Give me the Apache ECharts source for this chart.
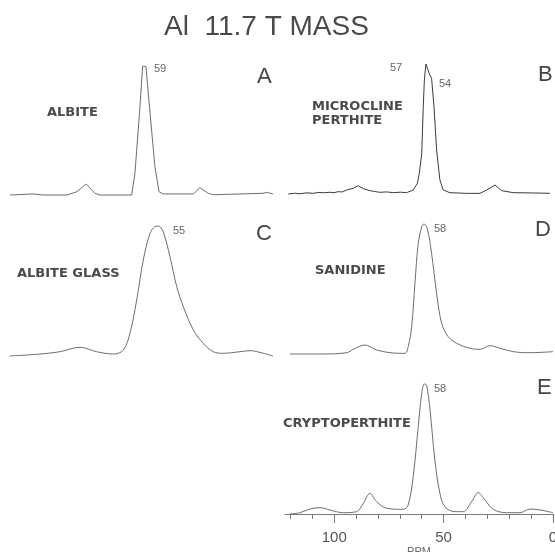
<!DOCTYPE html>
<html>
<head>
<meta charset="utf-8">
<script src="https://cdn.jsdelivr.net/npm/echarts@6/dist/echarts.min.js"></script>
<style>
  html, body { margin: 0; padding: 0; background: #fff; }
  #chart { width: 555px; height: 552px; }
</style>
</head>
<body>
<div id="chart"></div>
<script>
// chemical shift (ppm) and relative intensity (%)
const albitePpm = [120.2, 109.7, 105.2, 94.2, 89.6, 85.5, 81.4, 79.1, 64.6, 63.1, 60.8, 59.6, 58.1, 56.2, 54.0, 52.1, 50.2, 36.4, 33.4, 29.6, 27.3, 4.6, 2.9, 0]
const albiteVal = [0, 0.8, 0, 0, 2.5, 8.5, 1.3, 0, 0, 16.7, 68, 99, 99, 63, 22, 2.5, 0.8, 0.8, 5.6, 1.3, 0.2, 1.3, 2, 0.8]

const microPpm = [121.0, 118.2, 115.7, 112.5, 109.6, 107.3, 105.0, 102.0, 100.1, 98.2, 96.3, 94.3, 91.3, 89.0, 86.7, 83.7, 81.5, 79.1, 76.0, 73.0, 69.8, 66.9, 63.9, 62.0, 61.1, 60.0, 59.3, 58.8, 58.1, 56.6, 55.5, 54.4, 53.2, 51.7, 50.2, 47.1, 39.5, 33.4, 30.3, 26.5, 23.5, 18.2, 9.0, 1.4]
const microVal = [0, 0.6, 0.2, 0.9, 0.5, 1.2, 1.0, 1.3, 1.0, 1.8, 1.6, 3.1, 4.4, 6.4, 4.1, 2.6, 1.9, 1.3, 1.6, 1.0, 1.4, 1.0, 3.1, 8.2, 15.9, 31.3, 67.2, 87.7, 100, 92.8, 89.0, 67.2, 33.8, 10.8, 3.1, 1.0, 0.5, 0.5, 3.1, 6.9, 2.6, 1.0, 0.8, 0.5]

const glassPpm = [120.5, 106.5, 97.4, 88.2, 80.6, 73.0, 68.4, 65.4, 62.3, 59.3, 56.2, 54.0, 52.4, 50.2, 47.1, 44.0, 41.0, 36.4, 31.9, 27.3, 22.7, 15.1, 10.5, 4.4, 0]
const glassVal = [0, 1.5, 3.3, 6.7, 3.3, 1.5, 4.6, 17.4, 43.1, 73.8, 94.4, 99.5, 100, 95.6, 76.4, 53.3, 37.9, 20, 9.7, 3.3, 2.1, 3.3, 4.1, 2.1, 0]

const sanidinePpm = [120.3, 106.5, 94.3, 91.3, 86.0, 80.6, 74.5, 67.7, 66.2, 64.6, 63.1, 61.6, 60.0, 59.0, 57.5, 55.5, 53.2, 50.9, 47.9, 44.0, 38.0, 33.4, 28.8, 24.2, 18.2, 10.5, 0]
const sanidineVal = [0, 0, 1.0, 3.6, 6.9, 3.1, 1.0, 0.5, 5.6, 21.0, 54.4, 85.1, 97.9, 100, 96.7, 77.4, 46.7, 23.6, 13.3, 8.2, 4.4, 3.6, 6.4, 4.4, 1.8, 1.0, 1.8]

const cryptoPpm = [120.3, 115.7, 111.1, 106.5, 102.0, 95.9, 89.8, 86.7, 83.7, 80.6, 76.0, 68.4, 66.2, 63.9, 61.6, 60.0, 58.8, 57.8, 56.2, 54.0, 51.7, 49.4, 44.8, 41.0, 37.2, 34.2, 31.1, 27.3, 21.2, 15.1, 10.5, 5.9, 0]
const cryptoVal = [0, 1.0, 3.8, 4.9, 3.1, 1.0, 1.8, 8.2, 15.9, 9.5, 4.4, 3.6, 6.9, 28.7, 67.2, 92.8, 100, 99.2, 80, 41.5, 15.9, 5.6, 1.8, 1.8, 9.5, 16.4, 10.8, 3.6, 1.0, 1.0, 3.8, 3.1, 1.0]

const minorTickPpm = [0, 10, 20, 30, 40, 50, 60, 70, 80, 90, 100, 110, 120]
const majorTickPpm = [0, 50, 100]

const sampleNames = ['ALBITE', 'MICROCLINE\nPERTHITE', 'ALBITE GLASS', 'SANIDINE', 'CRYPTOPERTHITE']
const panelLetters = ['A', 'B', 'C', 'D', 'E']

const zip = (xs, ys) => xs.map((x, i) => [x, ys[i]])

const panels = [
  { data: zip(albitePpm, albiteVal), smooth: false, color: '#6e6e6e' },
  { data: zip(microPpm, microVal), smooth: false, color: '#3c3c3c' },
  { data: zip(glassPpm, glassVal), smooth: 0.35, color: '#6e6e6e' },
  { data: zip(sanidinePpm, sanidineVal), smooth: 0.35, color: '#6e6e6e' },
  { data: zip(cryptoPpm, cryptoVal), smooth: 0.35, color: '#6e6e6e' },
]

// panel boxes: two columns, E sits under D
const boxes = [
  { left: 5, top: 65 },
  { left: 285, top: 64 },
  { left: 5, top: 226 },
  { left: 285, top: 224 },
  { left: 285, top: 384 },
]

const myChart = echarts.init(document.getElementById('chart'))

const grid = boxes.map(b => ({
  left: b.left, top: b.top, width: 268, height: 130,
  containLabel: false, outerBoundsMode: 'none'
}))

const xAxis = boxes.map((b, i) => ({
  type: 'value', gridIndex: i, min: 0, max: 122.5, inverse: true,
  position: 'bottom',
  show: i === 4,
  axisLine: { show: true, lineStyle: { color: '#7a7a7a', width: 1 } },
  axisTick: { show: true, customValues: minorTickPpm, length: 5, lineStyle: { color: '#7a7a7a' } },
  axisLabel: { show: false },
  splitLine: { show: false },
  name: i === 4 ? 'PPM' : '',
  nameLocation: 'middle',
  nameGap: 32,
  nameTextStyle: { fontSize: 11, color: '#666', fontFamily: 'Liberation Sans' }
}))
// long ticks and labels under E
xAxis.push({
  type: 'value', gridIndex: 4, min: 0, max: 122.5, inverse: true,
  position: 'bottom', offset: 0,
  axisLine: { show: false },
  axisTick: { show: true, customValues: majorTickPpm, length: 9, lineStyle: { color: '#7a7a7a' } },
  axisLabel: { show: true, customValues: majorTickPpm, margin: 16, fontSize: 15, color: '#555', fontFamily: 'Liberation Sans' },
  splitLine: { show: false }
})

const yAxis = boxes.map((b, i) => ({
  type: 'value', gridIndex: i, min: 0, max: 100, show: false, splitLine: { show: false }
}))

const series = panels.map((p, i) => ({
  type: 'line', xAxisIndex: i, yAxisIndex: i,
  data: p.data, smooth: p.smooth,
  showSymbol: false, symbol: 'none',
  lineStyle: { color: p.color, width: 1 },
  clip: false
}))

const txt = (x, y, text, style) => ({
  type: 'text', left: x, top: y,
  style: Object.assign({ text: text, fill: '#444', fontFamily: 'Liberation Sans' }, style)
})

const nameStyle = { fontSize: 13, fontWeight: 'bold', fontFamily: 'DejaVu Sans', fill: '#4a4a4a', lineHeight: 14 }
const peakStyle = { fontSize: 11, fill: '#666' }
const letterStyle = { fontSize: 22, fill: '#444' }

const graphic = [
  txt(164, 13, 'Al  11.7 T MASS', { fontSize: 28, fill: '#4a4a4a' }),
  txt(47, 106, sampleNames[0], nameStyle),
  txt(312, 100, sampleNames[1], nameStyle),
  txt(17, 267, sampleNames[2], nameStyle),
  txt(315, 264, sampleNames[3], nameStyle),
  txt(283, 417, sampleNames[4], nameStyle),
  txt(154, 63, '59', peakStyle),
  txt(390, 62, '57', peakStyle),
  txt(439, 78, '54', peakStyle),
  txt(173, 225, '55', peakStyle),
  txt(434, 223, '58', peakStyle),
  txt(434, 383, '58', peakStyle),
  txt(257, 66, panelLetters[0], letterStyle),
  txt(538, 64, panelLetters[1], letterStyle),
  txt(256, 223, panelLetters[2], letterStyle),
  txt(535, 219, panelLetters[3], letterStyle),
  txt(537, 377, panelLetters[4], letterStyle),
]

myChart.setOption({
  backgroundColor: '#fff',
  animation: false,
  grid, xAxis, yAxis, series, graphic
})
</script>
</body>
</html>
